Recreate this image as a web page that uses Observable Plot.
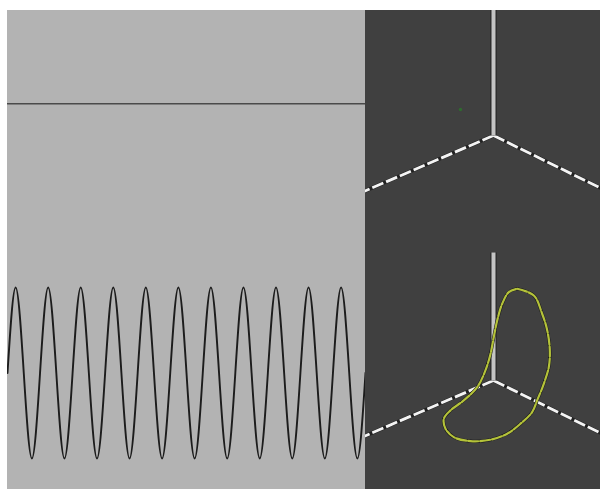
<!DOCTYPE html>
<html><head><meta charset="utf-8">
<script src="https://cdn.jsdelivr.net/npm/d3@7"></script>
<script src="https://cdn.jsdelivr.net/npm/@observablehq/plot@0.6"></script>
<style>
html,body{margin:0;padding:0;background:#fff;}
#root{position:relative;width:600px;height:489px;overflow:hidden;background:#fff;}
.panel{position:absolute;}
</style></head><body><div id="root"></div>
<script>
// Left panel: oscillation (time in cycles, displacement)
const waveT = [0,0.25,0.5,0.75,1,1.25,1.5,1.75,2,2.25,2.5,2.75,3,3.25,3.5,3.75,4,4.25,4.5,4.75,5,5.25,5.5,5.75,6,6.25,6.5,6.75,7,7.25,7.5,7.75,8,8.25,8.5,8.75,9,9.25,9.5,9.75,10,10.25,10.5,10.75,11];
const waveV = [0,1,0,-1,0,1,0,-1,0,1,0,-1,0,1,0,-1,0,1,0,-1,0,1,0,-1,0,1,0,-1,0,1,0,-1,0,1,0,-1,0,1,0,-1,0,1,0,-1,0];
const levelT = [0, 11];
const levelV = [3.15, 3.15];

// Right panels: 3D axes projected (u to the right, v up), vertical axis length = 1
const axisStartU = [0, 0, 0];
const axisStartV = [0, 0, 0];
const axisEndU = [0, -1.25, 1.2];
const axisEndV = [1.0, -0.54, -0.59];
const dotU = [-0.258];
const dotV = [0.203];
const loopU = [0.185,0.315,0.380,0.420,0.440,0.432,0.393,0.341,0.302,0.211,0.107,-0.023,-0.180,-0.310,-0.375,-0.388,-0.336,-0.232,-0.127,-0.063,-0.023,0.002,0.029,0.068,0.120,0.185];
const loopV = [0.716,0.664,0.521,0.391,0.234,0.104,-0.026,-0.156,-0.248,-0.338,-0.416,-0.463,-0.474,-0.443,-0.377,-0.299,-0.234,-0.156,-0.052,0.078,0.209,0.338,0.469,0.599,0.690,0.716];

const root = document.getElementById("root");
function place(el, left, top) {
  const d = document.createElement("div");
  d.className = "panel";
  d.style.left = left + "px";
  d.style.top = top + "px";
  d.appendChild(el);
  root.appendChild(d);
}

const wave = waveT.map((t, i) => ({t, v: waveV[i]}));
const level = levelT.map((t, i) => ({t, v: levelV[i]}));

const left = Plot.plot({
  width: 358, height: 479,
  marginTop: 0, marginRight: 0, marginBottom: 0, marginLeft: 0,
  style: {background: "#b3b3b3", display: "block", borderRight: "2px solid #c6c6c6"},
  x: {domain: [0, 11], axis: null},
  y: {domain: [-1.363, 4.24], axis: null},
  marks: [
    Plot.line(level, {x: "t", y: "v", stroke: "#4a4a4a", strokeWidth: 1.6, clip: true}),
    Plot.line(wave, {x: "t", y: "v", curve: "natural", stroke: "#1c1c1c", strokeWidth: 1.9, clip: true})
  ]
});
place(left, 7, 10);

const axes = axisStartU.map((u, i) => ({u1: u, v1: axisStartV[i], u2: axisEndU[i], v2: axisEndV[i]}));
const vert = axes.slice(0, 1);
const horiz = axes.slice(1);
const dots = dotU.map((u, i) => ({u, v: dotV[i]}));
const loop = loopU.map((u, i) => ({u, v: loopV[i]}));

function axesMarks() {
  return [
    Plot.link(horiz, {x1: "u1", y1: "v1", x2: "u2", y2: "v2", stroke: "#222", strokeWidth: 3.6, clip: true}),
    Plot.link(horiz, {x1: "u1", y1: "v1", x2: "u2", y2: "v2", stroke: "#f4f4f4", strokeWidth: 2.8, strokeDasharray: "12,3", clip: true}),
    Plot.link(vert, {x1: "u1", y1: "v1", x2: "u2", y2: "v2", stroke: "#2a2a2a", strokeWidth: 6.5, clip: true}),
    Plot.link(vert, {x1: "u1", y1: "v1", x2: "u2", y2: "v2", stroke: "#c4c4c4", strokeWidth: 4, clip: true})
  ];
}

const topRight = Plot.plot({
  width: 235, height: 239,
  marginTop: 0, marginRight: 0, marginBottom: 0, marginLeft: 0,
  style: {background: "#404040", display: "block"},
  x: {domain: [-1.0, 0.836], axis: null},
  y: {domain: [-0.891, 0.977], axis: null},
  marks: [
    ...axesMarks(),
    Plot.dot(dots, {x: "u", y: "v", r: 1.7, fill: "#2f6a2f", stroke: "none"})
  ]
});
place(topRight, 365, 10);

const bottomRight = Plot.plot({
  width: 235, height: 240,
  marginTop: 0, marginRight: 0, marginBottom: 0, marginLeft: 0,
  style: {background: "#404040", display: "block"},
  x: {domain: [-1.0, 0.836], axis: null},
  y: {domain: [-0.852, 1.023], axis: null},
  marks: [
    ...axesMarks(),
    Plot.line(loop, {x: "u", y: "v", curve: "catmull-rom", stroke: "#1a1a1a", strokeWidth: 3.2, clip: true}),
    Plot.line(loop, {x: "u", y: "v", curve: "catmull-rom", stroke: "#b4c23a", strokeWidth: 2.2, strokeDasharray: "10,2", clip: true})
  ]
});
place(bottomRight, 365, 249);
</script>
</body></html>
